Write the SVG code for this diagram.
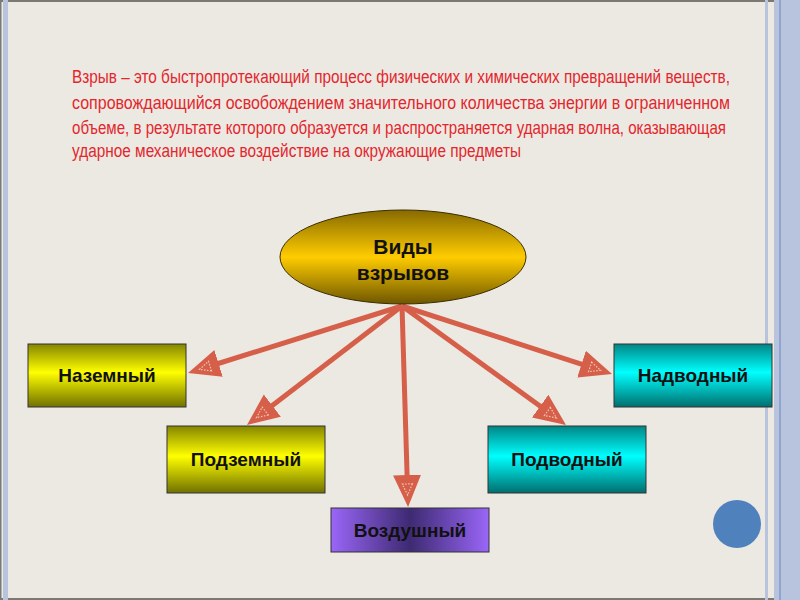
<svg xmlns="http://www.w3.org/2000/svg" width="800" height="600" viewBox="0 0 800 600">
<defs>
<style>
.intro{font-family:"Liberation Sans Narrow","Liberation Sans",sans-serif;font-size:16.5px;fill:#E3262E}
.lbl{font-family:"Liberation Sans",Arial,sans-serif;font-weight:bold;font-size:19px;fill:#111;text-anchor:middle}
.big{font-family:"Liberation Sans",Arial,sans-serif;font-weight:bold;font-size:21px;fill:#111;text-anchor:middle}
.box{stroke:#333;stroke-width:1}
.arr{stroke:#D65F4A;stroke-width:5;fill:none;marker-end:url(#ah)}
</style>
<linearGradient id="gGold" x1="0" y1="0" x2="0" y2="1">
<stop offset="0" stop-color="#876A00"/>
<stop offset="0.5" stop-color="#FFCC00"/>
<stop offset="1" stop-color="#6E5600"/>
</linearGradient>
<linearGradient id="gYel" x1="0" y1="0" x2="0" y2="1">
<stop offset="0" stop-color="#858500"/>
<stop offset="0.45" stop-color="#FFFF00"/>
<stop offset="1" stop-color="#707000"/>
</linearGradient>
<linearGradient id="gCyan" x1="0" y1="0" x2="0" y2="1">
<stop offset="0" stop-color="#008585"/>
<stop offset="0.45" stop-color="#00FFFF"/>
<stop offset="1" stop-color="#006E6E"/>
</linearGradient>
<linearGradient id="gPur" x1="0" y1="0" x2="1" y2="0">
<stop offset="0" stop-color="#9A66F8"/>
<stop offset="0.5" stop-color="#3E2A72"/>
<stop offset="1" stop-color="#9A66F8"/>
</linearGradient>
<marker id="ah" markerUnits="userSpaceOnUse" markerWidth="40" markerHeight="40" refX="7" refY="20" orient="auto" viewBox="0 0 40 40">
<path d="M0,6 L32,20 L0,34 Z" fill="#D65F4A"/>
<path d="M9,15 L20,20 L9,25 Z" fill="none" stroke="#F4C4B4" stroke-width="1.2" stroke-dasharray="1.5 1.5"/>
</marker>
</defs>
<rect x="0" y="0" width="800" height="600" fill="#ECE9E2"/>
<g id="frame">
<rect x="0" y="0" width="800" height="2" fill="#7A7A72"/>
<rect x="0" y="598" width="800" height="2" fill="#7A7A72"/>
<rect x="0" y="0" width="1.5" height="600" fill="#7A7A72"/>
<rect x="3" y="0" width="5" height="600" fill="#B8C4DE"/>
<rect x="765" y="0" width="3" height="600" fill="#B8C4DE"/>
<rect x="774" y="0" width="26" height="600" fill="#B8C4DE"/>
<rect x="779" y="0" width="2" height="600" fill="#8FA4CF"/>
</g>
<g id="intro" transform="scale(1,1.08)">
<text class="intro" x="72" y="76.85" textLength="658" lengthAdjust="spacingAndGlyphs">Взрыв – это быстропротекающий процесс физических и химических превращений веществ,</text>
<text class="intro" x="72" y="100.93" textLength="658" lengthAdjust="spacingAndGlyphs">сопровождающийся  освобождением  значительного  количества  энергии  в  ограниченном</text>
<text class="intro" x="72" y="124.07" textLength="654" lengthAdjust="spacingAndGlyphs">объеме, в результате которого образуется и распространяется ударная волна, оказывающая</text>
<text class="intro" x="72" y="145.37" textLength="449" lengthAdjust="spacingAndGlyphs">ударное механическое воздействие на окружающие предметы</text>
</g>
<g id="connectors">
<line class="arr" x1="402" y1="306" x2="211.9" y2="365.5"/>
<line class="arr" x1="402" y1="306" x2="266.8" y2="409.8"/>
<line class="arr" x1="402" y1="306" x2="407.3" y2="482"/>
<line class="arr" x1="402" y1="306" x2="545.8" y2="410.3"/>
<line class="arr" x1="402" y1="306" x2="588.2" y2="366.3"/>
</g>
<g id="center">
<ellipse cx="403" cy="257" rx="123" ry="47" fill="url(#gGold)" stroke="#3A2E00" stroke-width="1"/>
<text class="big" x="403" y="254">Виды</text>
<text class="big" x="403" y="280">взрывов</text>
</g>
<g id="nazemny">
<rect class="box" x="28" y="344" width="158" height="63" fill="url(#gYel)"/>
<text class="lbl" x="107" y="382">Наземный</text>
</g>
<g id="podzemny">
<rect class="box" x="167" y="426" width="158" height="67" fill="url(#gYel)"/>
<text class="lbl" x="246" y="466">Подземный</text>
</g>
<g id="vozdushny">
<rect class="box" x="331" y="508" width="158" height="44" fill="url(#gPur)"/>
<text class="lbl" x="410" y="537">Воздушный</text>
</g>
<g id="podvodny">
<rect class="box" x="488" y="426" width="158" height="67" fill="url(#gCyan)"/>
<text class="lbl" x="567" y="466">Подводный</text>
</g>
<g id="nadvodny">
<rect class="box" x="614" y="344" width="158" height="63" fill="url(#gCyan)"/>
<text class="lbl" x="693" y="382">Надводный</text>
</g>
<circle id="dot" cx="737" cy="524" r="24" fill="#4F81BD"/>
</svg>
